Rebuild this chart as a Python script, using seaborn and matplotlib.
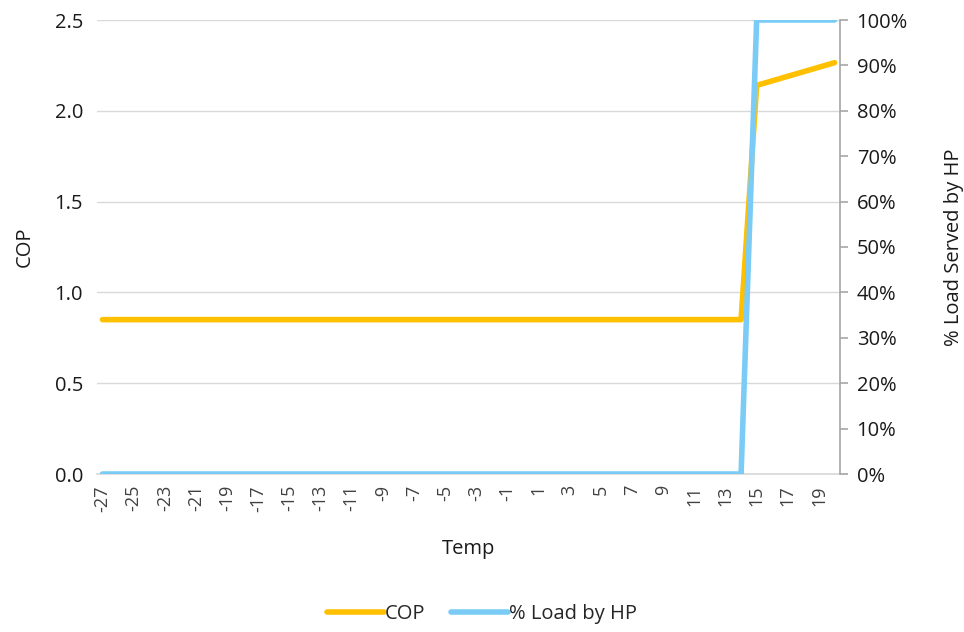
import matplotlib
matplotlib.use("Agg")
import matplotlib.pyplot as plt
import seaborn as sns
import pandas as pd
import numpy as np
from matplotlib.ticker import PercentFormatter
from matplotlib.lines import Line2D

temps = list(range(-27, 21))
cop = [0.85] * 42 + [2.14, 2.165, 2.19, 2.215, 2.24, 2.265]
load_pct = [0.0] * 42 + [1.0] * 6
tick_labels = [str(t) for t in range(-27, 21, 2)]

sns.set_theme(style="white")
plt.rcParams['font.family'] = ['Open Sans', 'DejaVu Sans']

df = pd.DataFrame({"Temp": temps, "COP": cop, "Load": load_pct})

fig = plt.figure(figsize=(9.64, 6.32), dpi=100)
ax = fig.add_axes([97/964, 1 - 474/632, (840-97)/964, (474-20)/632])
ax2 = ax.twinx()

cop_color = "#FFC000"
load_color = "#7ACCF7"

sns.lineplot(data=df, x="Temp", y="COP", ax=ax, color=cop_color, linewidth=4, legend=False)
sns.lineplot(data=df, x="Temp", y="Load", ax=ax2, color=load_color, linewidth=4, legend=False)

ax.set_xlim(-27.35, 20.35)
ax.set_ylim(0, 2.5)
ax2.set_ylim(0, 1.0)
ax.set_yticks([0, 0.5, 1.0, 1.5, 2.0, 2.5])
ax.set_yticklabels(["0.0", "0.5", "1.0", "1.5", "2.0", "2.5"])
ax2.set_yticks(np.arange(0, 1.01, 0.1))
ax2.yaxis.set_major_formatter(PercentFormatter(1.0, decimals=0))

ax.set_xticks(list(range(-27, 21, 2)))
ax.set_xticklabels(tick_labels, rotation=90, va="top")

ax.grid(axis="y", color="#D9D9D9", linewidth=1)
ax.set_axisbelow(True)
for s in ["top", "left", "right"]:
    ax.spines[s].set_visible(False)
ax.spines["bottom"].set_color("#D9D9D9")
for s in ["top", "left", "bottom"]:
    ax2.spines[s].set_visible(False)
ax2.spines["right"].set_color("#A6A6A6")
ax2.spines["right"].set_linewidth(1.2)

ax.tick_params(axis="y", length=0, labelsize=14.5, labelcolor="#1a1a1a", pad=10)
ax.tick_params(axis="x", length=0, labelsize=13, labelcolor="#404040", pad=8)
ax2.tick_params(axis="y", length=6, width=1.2, color="#A6A6A6", labelsize=14.5,
                labelcolor="#1a1a1a", pad=6, direction="out")

ax.set_xlabel("Temp", fontsize=14.5, color="#1a1a1a", labelpad=20)
ax.set_ylabel("COP", fontsize=14.5, color="#1a1a1a", labelpad=14)
ax2.set_ylabel("% Load Served by HP", fontsize=14.5, color="#1a1a1a", labelpad=26)

handles = [Line2D([0], [0], color=cop_color, lw=4, solid_capstyle="round"),
           Line2D([0], [0], color=load_color, lw=4, solid_capstyle="round")]
fig.legend(handles, ["COP", "% Load by HP"], loc="center", bbox_to_anchor=(0.5, 1 - 614/632),
           ncol=2, frameon=False, fontsize=14.5, handlelength=2.8, handletextpad=0.05,
           columnspacing=1.3)

fig.savefig("out.png", dpi=100)
